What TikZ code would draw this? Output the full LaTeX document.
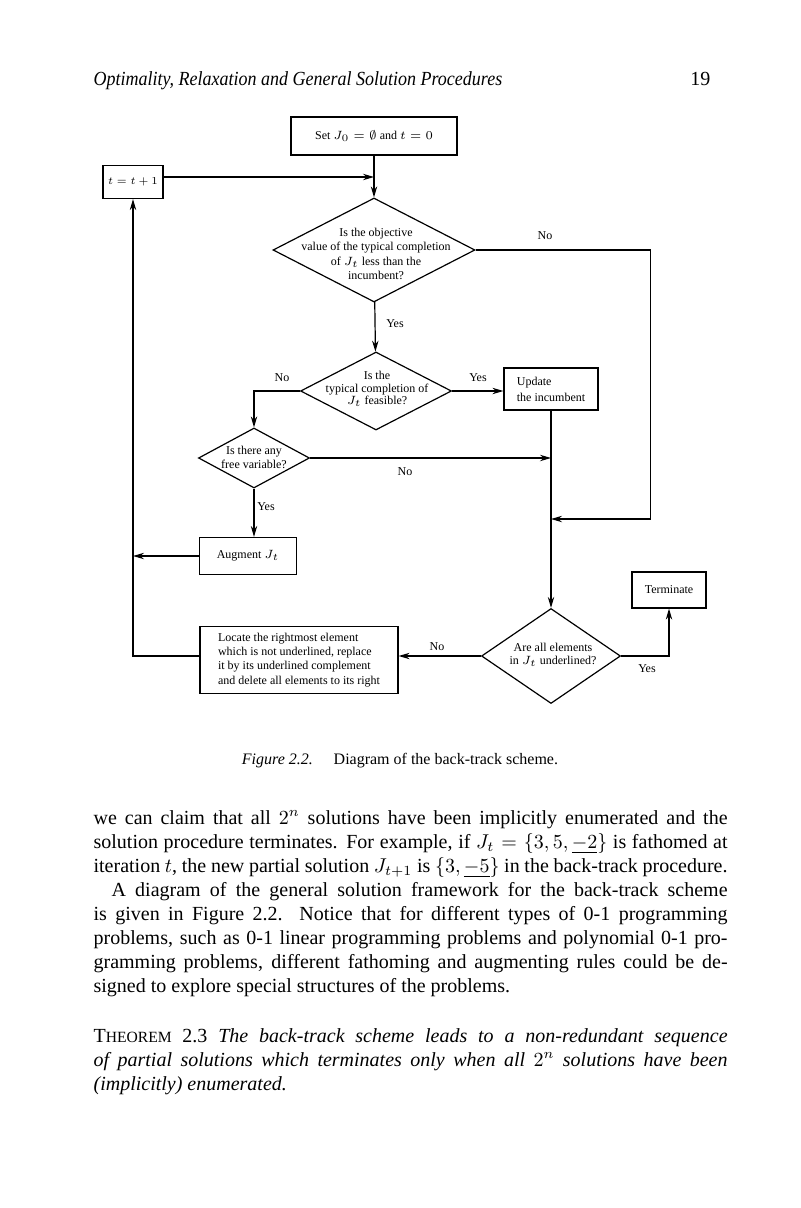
\documentclass[tikz,border=0pt]{standalone}
\usepackage{fontspec}
\setmainfont{Liberation Serif}
\usetikzlibrary{positioning, arrows.meta, shapes.geometric}
\newcommand\chartfont{\fontsize{6}{6.8}\selectfont}
\newcommand\bodyfont{\fontsize{10}{12}\selectfont}
\newcommand\fullline[1]{\makebox[317pt][s]{#1}}
\tikzset{
>={Stealth[length=5.5pt, width=3.2pt]}, % slim filled arrow heads
box/.style={draw, rectangle, inner sep=0pt, font=\chartfont}, % process boxes
test/.style={draw, diamond, inner sep=0pt}, % decision diamonds, text set apart
ask/.style={font=\chartfont, align=center, inner sep=0pt}, % text inside a diamond
word/.style={font=\chartfont, inner sep=0pt}, % Yes / No on the branches
page/.style={inner sep=0pt, anchor=base west, font=\bodyfont}, % running text of the page
}
\begin{document}
\begin{tikzpicture}[x=0.5pt, y=-0.5pt, line width=0.6pt]
\useasboundingbox (0,0) rectangle (800,1208);

% running head
\node[page, font=\bodyfont\itshape] (head) at (93,86) {\scalebox{0.9}[1]{Optimality, Relaxation and General Solution Procedures}};
\node[page, anchor=base east] (folio) at (711,86) {19};

% boxes and tests
\node[box, minimum width=83pt, minimum height=19pt] (init) at (374,136) {Set $J_0=\emptyset$ and $t=0$};
\node[box, minimum width=30pt, minimum height=16.5pt] (incr) at (133,182) {\scalebox{0.88}{$t=t+1$}};
\node[test, minimum width=101pt, minimum height=52pt] (q1) at (374,250) {};
\node[ask, font=\fontsize{6}{7.3}\selectfont] (q1t) at (376,254) {Is the objective\\value of the typical completion\\of $J_t$ less than the\\incumbent?};
\node[test, minimum width=75.5pt, minimum height=39pt] (q2) at (376,391) {};
\node[ask, font=\fontsize{6}{6.4}\selectfont] (q2t) at (377,389) {Is the\\typical completion of\\$J_t$ feasible?};
\node[box, align=left, minimum width=47pt, minimum height=21pt, font=\fontsize{6}{8}\selectfont] (update) at (551,389) {Update\\the incumbent};
\node[test, minimum width=55.5pt, minimum height=30pt] (q3) at (254,458) {};
\node[ask, font=\fontsize{6}{7}\selectfont] (q3t) at (254,457) {Is there any\\free variable?};
\node[box, minimum width=48.5pt, minimum height=18.5pt] (augment) at (248,556) {Augment $J_t$};
\node[box, minimum width=37pt, minimum height=18pt] (terminate) at (669,590) {Terminate};
\node[box, align=left, minimum width=99pt, minimum height=33.5pt, font=\fontsize{6}{7.1}\selectfont] (locate) at (299,660) {Locate the rightmost element\\which is not underlined, replace\\it by its underlined complement\\and delete all elements to its right};
\node[test, minimum width=69.5pt, minimum height=47.5pt] (q4) at (551,656) {};
\node[ask] (q4t) at (553,655) {Are all elements\\in $J_t$ underlined?};

% branch labels
\node[word] (no1) at (545,236) {No};
\node[word] (yes1) at (395,324) {Yes};
\node[word] (no2) at (282,378) {No};
\node[word] (yes2) at (478,378) {Yes};
\node[word] (no3) at (405,472) {No};
\node[word] (yes3) at (266,507) {Yes};
\node[word] (no4) at (437,647) {No};
\node[word] (yes4) at (647,669) {Yes};

% connectors
\coordinate (merge) at (374,177);
\coordinate (join) at (551,519);
\draw[->] (init) -- (q1);
\draw[->] (incr.east |- merge) -- (merge);
\draw[->] (q1.east) -- ++(175,0) |- (join);
\draw[->] (q1) -- (q2);
\draw[->] (q2) -- (q2 -| update.west);
\draw[->] (q2.west) -| (q3.north);
\draw[->] (update) -- (q4);
\draw[->] (q3.east) -- (q3.east -| join);
\draw[->] (q3.south) -- (q3.south |- augment.north);
\draw[->] (augment.west) -- (augment.west -| incr.south);
\draw[->] (q4.west) -- (q4.west -| locate.east);
\draw[->] (locate.west |- q4.west) -| (incr.south);
\draw[->] (q4.east) -| (terminate.south);

% caption
\node[inner sep=0pt, anchor=base, font=\fontsize{8}{10}\selectfont] (caption) at (400,764) {\textit{Figure 2.2.}\hspace{1.3em}Diagram of the back-track scheme.};

% text below the figure (base is the last line)
\node[page, align=left] (body) at (93,992) {%
\fullline{we can claim that all $2^n$ solutions have been implicitly enumerated and the}\\
\fullline{solution procedure terminates. For example, if $J_t=\{3,5,\underline{-2}\}$ is fathomed at}\\
\fullline{iteration $t$, the new partial solution $J_{t+1}$ is $\{3,\underline{-5}\}$ in the back-track procedure.}\\
\fullline{\hspace*{9pt}A diagram of the general solution framework for the back-track scheme}\\
\fullline{is given in Figure 2.2.\ \ Notice that for different types of 0-1 programming}\\
\fullline{problems, such as 0-1 linear programming problems and polynomial 0-1 pro-}\\
\fullline{gramming problems, different fathoming and augmenting rules could be de-}\\
signed to explore special structures of the problems.};
\node[page, align=left] (theorem) at (93,1090) {%
\fullline{T{\fontsize{7.8}{12}\selectfont HEOREM} 2.3 \textit{The back-track scheme leads to a non-redundant sequence}}\\
\fullline{\textit{of partial solutions which terminates only when all $2^n$ solutions have been}}\\
\textit{(implicitly) enumerated.}};
\end{tikzpicture}
\end{document}
